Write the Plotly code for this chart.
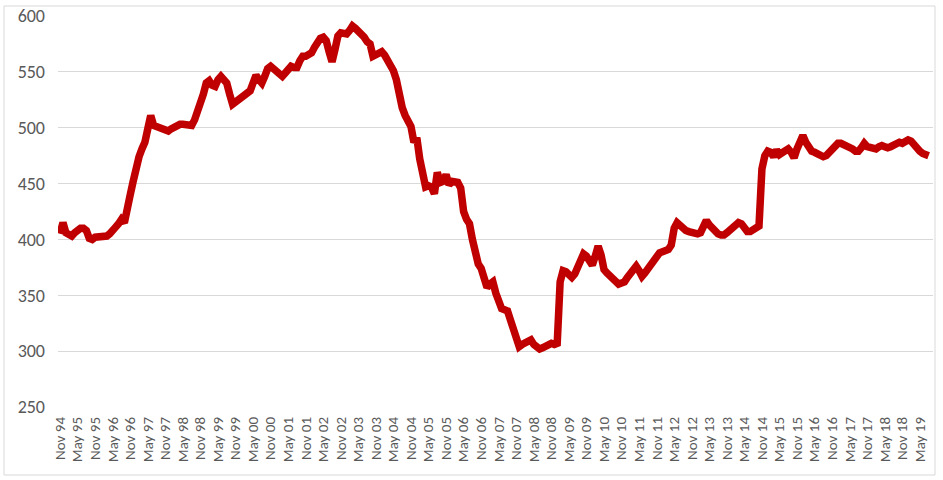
import plotly.graph_objects as go

# Monthly series, Nov 1994 .. Aug 2019
start_year, start_month = 1994, 11
v1994 = [405, 415]
v1995 = [406, 404, 403, 406, 409, 410, 410, 408, 401, 400, 402, 402]
v1996 = [402, 403, 403, 405, 407, 411, 414, 418, 415, 432, 440, 452]
v1997 = [466, 474, 481, 487, 499, 511, 502, 501, 501, 500, 499, 497]
v1998 = [499, 501, 502, 503, 503, 503, 502, 502, 507, 514, 520, 530]
v1999 = [540, 542, 538, 537, 543, 546, 543, 540, 530, 521, 523, 525]
v2000 = [526, 528, 529, 533, 540, 547, 543, 540, 546, 553, 555, 553]
v2001 = [552, 549, 546, 549, 553, 555, 554, 554, 560, 564, 564, 565]
v2002 = [567, 572, 577, 580, 581, 578, 568, 559, 570, 582, 585, 585]
v2003 = [584, 587, 591, 589, 587, 585, 581, 577, 575, 564, 565, 567]
v2004 = [568, 565, 561, 557, 551, 543, 525, 518, 511, 505, 501, 487]
v2005 = [491, 472, 462, 447, 448, 447, 441, 460, 451, 452, 458, 449]
v2006 = [452, 451, 451, 446, 425, 418, 414, 400, 386, 378, 374, 365]
v2007 = [357, 360, 362, 352, 344, 338, 337, 336, 328, 319, 310, 304]
v2008 = [306, 308, 309, 310, 306, 303, 302, 303, 304, 306, 307, 306]
v2009 = [307, 362, 372, 371, 369, 366, 369, 376, 382, 387, 385, 382]
v2010 = [377, 385, 394, 386, 373, 370, 367, 364, 361, 360, 361, 362]
v2011 = [366, 369, 373, 376, 372, 367, 370, 374, 379, 383, 386, 388]
v2012 = [389, 390, 391, 395, 410, 415, 412, 410, 408, 407, 406, 405]
v2013 = [405, 406, 413, 417, 413, 410, 406, 405, 404, 404, 406, 408]
v2014 = [410, 413, 415, 414, 411, 407, 407, 409, 410, 412, 463, 475]
v2015 = [479, 478, 474, 480, 476, 478, 481, 481, 478, 473, 481, 487]
v2016 = [493, 487, 481, 479, 478, 477, 476, 474, 475, 478, 482, 485]
v2017 = [486, 486, 485, 484, 483, 481, 479, 479, 482, 486, 483, 482]
v2018 = [481, 481, 483, 484, 483, 482, 483, 485, 486, 487, 486, 488]
v2019 = [489, 488, 484, 481, 479, 477, 476, 475]

values = (v1994 + v1995 + v1996 + v1997 + v1998 + v1999 + v2000 + v2001 + v2002
          + v2003 + v2004 + v2005 + v2006 + v2007 + v2008 + v2009 + v2010 + v2011
          + v2012 + v2013 + v2014 + v2015 + v2016 + v2017 + v2018 + v2019)

month_names = ["Jan", "Feb", "Mar", "Apr", "May", "Jun",
               "Jul", "Aug", "Sep", "Oct", "Nov", "Dec"]
categories = []
y, m = start_year, start_month
for _ in values:
    categories.append(f"{month_names[m - 1]} {y % 100:02d}")
    m += 1
    if m > 12:
        m, y = 1, y + 1

tick_labels = [c for c in categories if c.startswith("Nov") or c.startswith("May")]

font_family = "Calibri, Carlito, 'Liberation Sans', Arial, sans-serif"
label_color = "#595959"
grid_color = "#D9D9D9"

fig = go.Figure()
fig.add_trace(go.Scatter(
    x=categories, y=values, mode="lines",
    line=dict(color="#C00000", width=7.5, shape="linear"),
    hoverinfo="x+y", showlegend=False,
))

fig.update_layout(
    width=943, height=480,
    margin=dict(l=58, r=10, t=16, b=73, autoexpand=False),
    paper_bgcolor="white", plot_bgcolor="white",
    font=dict(family=font_family, size=15, color=label_color),
    xaxis=dict(
        type="category", automargin=False,
        range=[-0.7, len(values) + 0.5],
        tickmode="array", tickvals=tick_labels, ticktext=tick_labels,
        tickangle=-90, showgrid=False, zeroline=False, showline=False,
        ticks="", ticklabelstandoff=6,
        tickfont=dict(family=font_family, size=15, color=label_color),
    ),
    yaxis=dict(
        automargin=False,
        range=[250, 600], tickmode="linear", tick0=250, dtick=50,
        showgrid=True, gridcolor=grid_color, gridwidth=1,
        zeroline=False, showline=False, ticks="", ticklabelstandoff=12,
        tickfont=dict(family=font_family, size=18, color=label_color),
    ),
    shapes=[dict(
        type="rect", xref="paper", yref="paper",
        x0=-0.0617, x1=1.0023, y0=-0.1739, y1=1.0256,
        line=dict(color=grid_color, width=1), fillcolor="rgba(0,0,0,0)",
        layer="above",
    )],
)

fig.write_html(
    "out.html",
    config={"displayModeBar": False},
    post_script="document.body.style.margin='0';document.body.style.padding='0';",
)
